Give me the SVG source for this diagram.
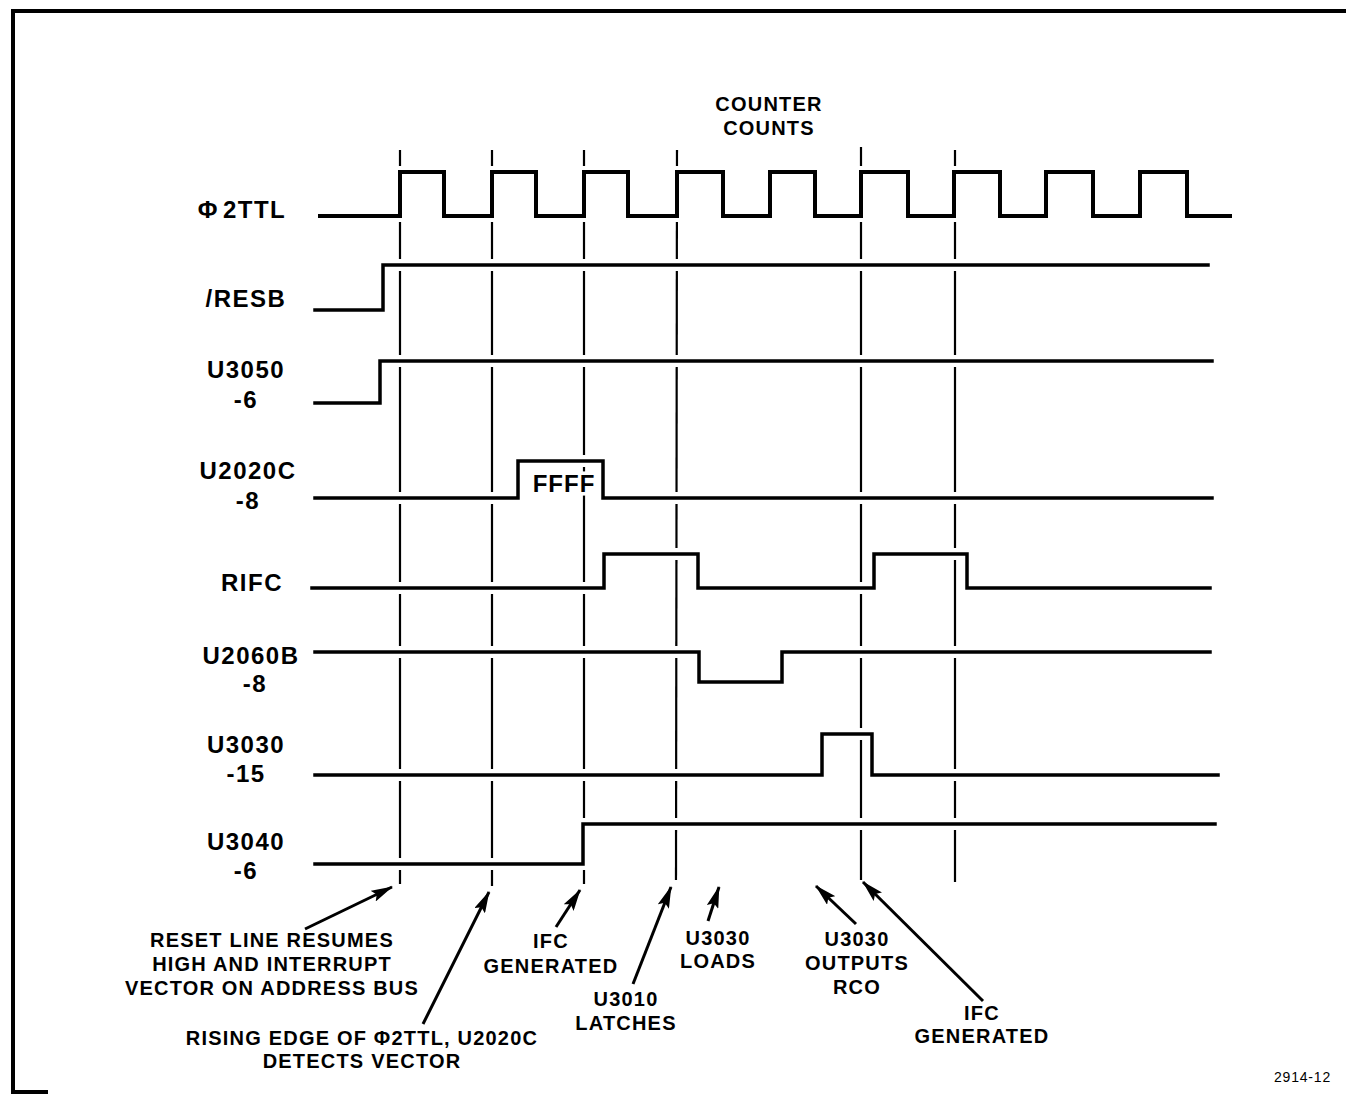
<svg xmlns="http://www.w3.org/2000/svg" width="1346" height="1094" viewBox="0 0 1346 1094">
<style>
.bg{fill:#fff}
.frame{fill:none;stroke:#000;stroke-width:4}
.vert{fill:none;stroke:#000;stroke-width:2.2}
.halo{fill:none;stroke:#fff;stroke-width:12;stroke-linejoin:miter}
.tr{fill:none;stroke:#000;stroke-width:3.5;stroke-linejoin:miter;stroke-linecap:square}
.clk{fill:none;stroke:#000;stroke-width:4;stroke-linejoin:miter;stroke-linecap:square}
.lbl{font-family:"Liberation Sans",Arial,sans-serif;font-weight:bold;font-size:24px;letter-spacing:1.5px;text-anchor:middle;fill:#000}
.ann{font-family:"Liberation Sans",Arial,sans-serif;font-weight:bold;font-size:20px;letter-spacing:1.2px;text-anchor:middle;fill:#000}
.fig{font-family:"Liberation Sans",Arial,sans-serif;font-size:14px;letter-spacing:0.8px;fill:#000}
.arr{fill:none;stroke:#000;stroke-width:3;marker-end:url(#ah)}
.knock{paint-order:stroke;stroke:#fff;stroke-width:7px;stroke-linejoin:round}
</style>
<defs>
<marker id="ah" viewBox="0 0 22 12" refX="21" refY="6" markerWidth="22" markerHeight="12" markerUnits="userSpaceOnUse" orient="auto">
<path d="M0,0 L22,6 L0,12 L4,6 z" fill="#000"/>
</marker>
</defs>
<rect class="bg" x="0" y="0" width="1346" height="1094"/>
<g id="frame">
<path class="frame" d="M1346,11 H13 V1094"/>
<path class="frame" d="M13,1092 H48"/>
</g>
<g id="timing-markers">
<line class="vert" x1="400" y1="150" x2="400" y2="884"/>
<line class="vert" x1="492" y1="150" x2="492" y2="886"/>
<line class="vert" x1="584" y1="150" x2="584" y2="884"/>
<line class="vert" x1="677" y1="150" x2="676" y2="880"/>
<line class="vert" x1="861" y1="147" x2="861" y2="880"/>
<line class="vert" x1="955" y1="150" x2="955" y2="882"/>
</g>
<g id="halos">
<path class="halo" d="M320,216 H400 V172 H444 V216 H492 V172 H536 V216 H584 V172 H628 V216 H677 V172 H723 V216 H770 V172 H815 V216 H861 V172 H908 V216 H954 V172 H1000 V216 H1046 V172 H1093 V216 H1140 V172 H1187 V216 H1230"/>
<path class="halo" d="M315,310 H383 V265 H1208"/>
<path class="halo" d="M315,403 H380 V361 H1212"/>
<path class="halo" d="M315,498 H518 V461 H603 V498 H1212"/>
<path class="halo" d="M312,588 H604 V554 H698 V588 H874 V554 H967 V588 H1210"/>
<path class="halo" d="M315,652 H699 V682 H782 V652 H1210"/>
<path class="halo" d="M315,775 H822 V734 H872 V775 H1218"/>
<path class="halo" d="M315,864 H583 V824 H1215"/>
</g>
<g id="sig-phi2ttl">
<text class="lbl" x="242" y="218">Φ<tspan dx="4">2TTL</tspan></text>
<path class="clk" d="M320,216 H400 V172 H444 V216 H492 V172 H536 V216 H584 V172 H628 V216 H677 V172 H723 V216 H770 V172 H815 V216 H861 V172 H908 V216 H954 V172 H1000 V216 H1046 V172 H1093 V216 H1140 V172 H1187 V216 H1230"/>
</g>
<g id="sig-resb">
<text class="lbl" x="246" y="307">/RESB</text>
<path class="tr" d="M315,310 H383 V265 H1208"/>
</g>
<g id="sig-u3050">
<text class="lbl" x="246" y="378">U3050</text>
<text class="lbl" x="246" y="408">-6</text>
<path class="tr" d="M315,403 H380 V361 H1212"/>
</g>
<g id="sig-u2020c">
<text class="lbl" x="248" y="479">U2020C</text>
<text class="lbl" x="248" y="509">-8</text>
<path class="tr" d="M315,498 H518 V461 H603 V498 H1212"/>
<text class="lbl knock" x="564" y="492" style="letter-spacing:1px">FFFF</text>
</g>
<g id="sig-rifc">
<text class="lbl" x="252" y="591">RIFC</text>
<path class="tr" d="M312,588 H604 V554 H698 V588 H874 V554 H967 V588 H1210"/>
</g>
<g id="sig-u2060b">
<text class="lbl" x="251" y="664">U2060B</text>
<text class="lbl" x="255" y="692">-8</text>
<path class="tr" d="M315,652 H699 V682 H782 V652 H1210"/>
</g>
<g id="sig-u3030">
<text class="lbl" x="246" y="753">U3030</text>
<text class="lbl" x="246" y="782">-15</text>
<path class="tr" d="M315,775 H822 V734 H872 V775 H1218"/>
</g>
<g id="sig-u3040">
<text class="lbl" x="246" y="850">U3040</text>
<text class="lbl" x="246" y="879">-6</text>
<path class="tr" d="M315,864 H583 V824 H1215"/>
</g>
<g id="note-counter">
<text class="ann" x="769" y="111">COUNTER</text>
<text class="ann" x="769" y="135">COUNTS</text>
</g>
<g id="note-reset">
<text class="ann" x="272" y="947">RESET LINE RESUMES</text>
<text class="ann" x="272" y="971">HIGH AND INTERRUPT</text>
<text class="ann" x="272" y="995">VECTOR ON ADDRESS BUS</text>
</g>
<g id="note-rising">
<text class="ann" x="362" y="1045">RISING EDGE OF Φ2TTL, U2020C</text>
<text class="ann" x="362" y="1068">DETECTS VECTOR</text>
</g>
<g id="note-ifc1">
<text class="ann" x="551" y="948">IFC</text>
<text class="ann" x="551" y="973">GENERATED</text>
</g>
<g id="note-u3010">
<text class="ann" x="626" y="1006">U3010</text>
<text class="ann" x="626" y="1030">LATCHES</text>
</g>
<g id="note-loads">
<text class="ann" x="718" y="945">U3030</text>
<text class="ann" x="718" y="968">LOADS</text>
</g>
<g id="note-rco">
<text class="ann" x="857" y="946">U3030</text>
<text class="ann" x="857" y="970">OUTPUTS</text>
<text class="ann" x="857" y="994">RCO</text>
</g>
<g id="note-ifc2">
<text class="ann" x="982" y="1020">IFC</text>
<text class="ann" x="982" y="1043">GENERATED</text>
</g>
<g id="connectors">
<line class="arr" x1="305" y1="929" x2="392" y2="887"/>
<line class="arr" x1="423" y1="1024" x2="489" y2="892"/>
<line class="arr" x1="556" y1="927" x2="580" y2="890"/>
<line class="arr" x1="633" y1="984" x2="671" y2="887"/>
<line class="arr" x1="708" y1="921" x2="719" y2="887"/>
<line class="arr" x1="856" y1="924" x2="816" y2="886"/>
<line class="arr" x1="983" y1="1001" x2="863" y2="882"/>
</g>
<text class="fig" x="1274" y="1082">2914-12</text>
</svg>
